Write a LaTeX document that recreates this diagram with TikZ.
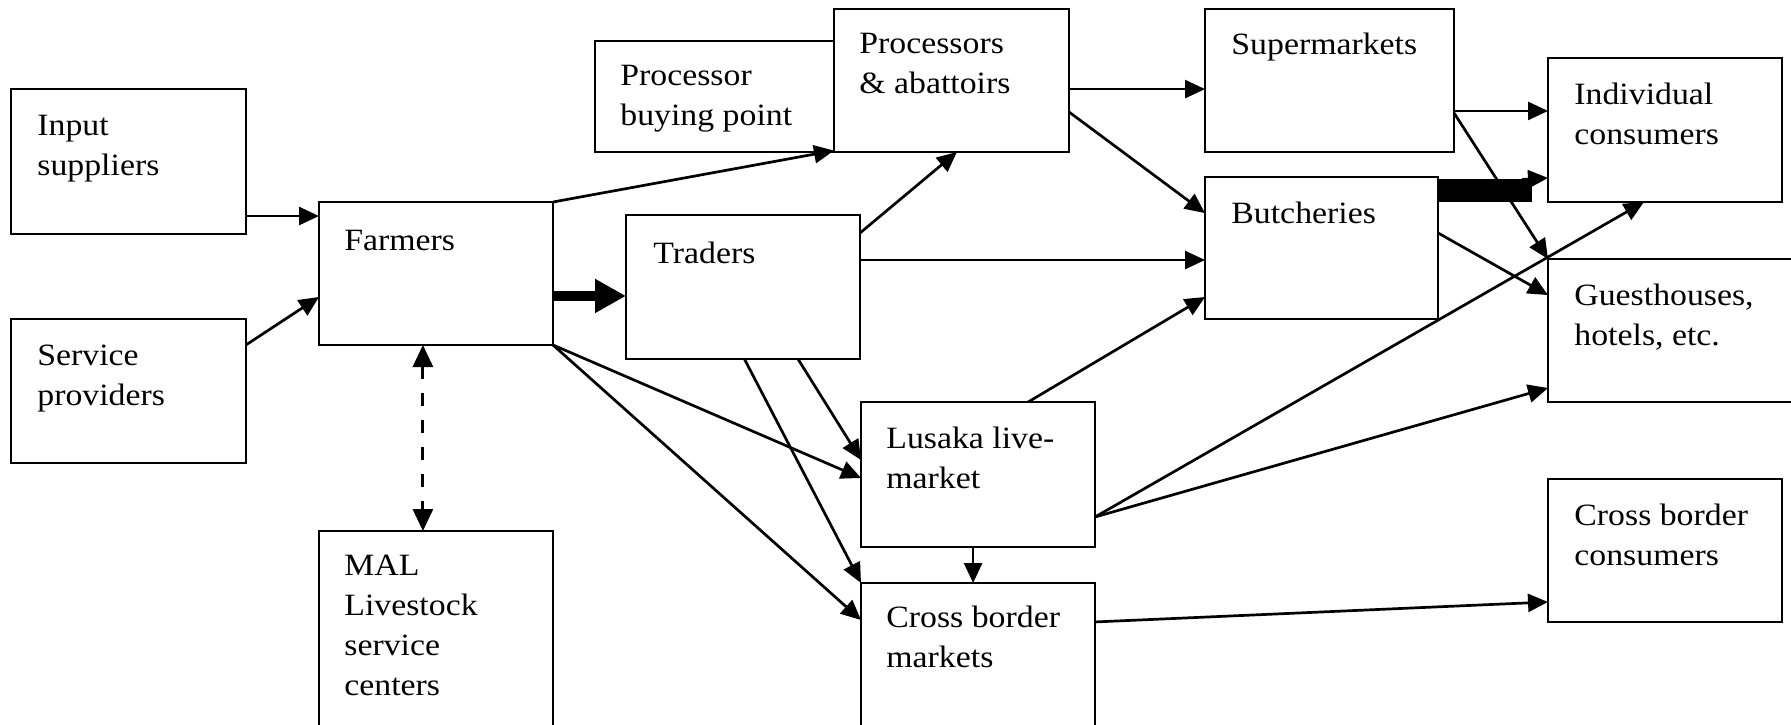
\documentclass[tikz,border=0pt]{standalone}
\usepackage{fontspec}
\setmainfont{Liberation Serif}[FakeStretch=1.09]
\usetikzlibrary{arrows.meta,calc}

\begin{document}
\begin{tikzpicture}[x=0.5pt,y=-0.5pt,
  box/.style={draw, line width=1pt, anchor=north west, inner sep=0pt, outer sep=0pt},
  txt/.style={anchor=north west, inner sep=0pt, align=left,
    font=\fontsize{15.5pt}{20pt}\selectfont},
  arr/.style={line width=1.35pt, -{Triangle[length=10pt,width=9pt]}},
  bigarr/.style={line width=5pt, -{Triangle[length=15.5pt,width=16pt]}},
  dasharr/.style={line width=1.5pt, dash pattern=on 6.5pt off 7pt,
    {Triangle[length=11pt,width=10pt]}-{Triangle[length=11pt,width=10pt]}}]

\clip (0,0) rectangle (1791,724);
\fill[white] (0,0) rectangle (1791,724);

% boxes
\node[box, minimum width=117.5pt, minimum height=72.5pt] (inp)   at (11,89)    {};
\node[box, minimum width=117.5pt, minimum height=72pt]   (serv)  at (11,319)   {};
\node[box, minimum width=117pt,   minimum height=71.5pt] (farm)  at (319,202)  {};
\node[box, minimum width=117pt,   minimum height=110pt]  (mal)   at (319,531)  {};
\node[box, minimum width=119.5pt, minimum height=55.5pt] (pbp)   at (595,41)   {};
\node[box, minimum width=117.5pt, minimum height=71.5pt] (proc)  at (834,9)    {};
\node[box, minimum width=117pt,   minimum height=72pt]   (trad)  at (626,215)  {};
\node[box, minimum width=124.5pt, minimum height=71.5pt] (supm)  at (1205,9)   {};
\node[box, minimum width=116.5pt, minimum height=71pt]   (butch) at (1205,177) {};
\node[box, minimum width=117pt,   minimum height=72pt]   (indiv) at (1548,58)  {};
\node[box, minimum width=125pt,   minimum height=71.5pt] (guest) at (1548,259) {};
\node[box, minimum width=117pt,   minimum height=72.5pt] (lus)   at (861,402)  {};
\node[box, minimum width=117pt,   minimum height=88.5pt] (cbm)   at (861,583)  {};
\node[box, minimum width=117pt,   minimum height=71.5pt] (cbc)   at (1548,479) {};

% box labels (the zero-width rule fixes the first baseline)
\node[txt] (inp-t)   at ([shift={(26,16)}]inp.north west)   {\rule{0pt}{15pt}Input\\suppliers};
\node[txt] (serv-t)  at ([shift={(26,16)}]serv.north west)  {\rule{0pt}{15pt}Service\\providers};
\node[txt] (farm-t)  at ([shift={(25,18)}]farm.north west)  {\rule{0pt}{15pt}Farmers};
\node[txt] (mal-t)   at ([shift={(25,14)}]mal.north west)   {\rule{0pt}{15pt}MAL\\Livestock\\service\\centers};
\node[txt] (pbp-t)   at ([shift={(25,14)}]pbp.north west)   {\rule{0pt}{15pt}Processor\\buying point};
\node[txt] (proc-t)  at ([shift={(25,14)}]proc.north west)  {\rule{0pt}{15pt}Processors\\\& abattoirs};
\node[txt] (trad-t)  at ([shift={(27,18)}]trad.north west)  {\rule{0pt}{15pt}Traders};
\node[txt] (supm-t)  at ([shift={(26,15)}]supm.north west)  {\rule{0pt}{15pt}Supermarkets};
\node[txt] (butch-t) at ([shift={(26,16)}]butch.north west) {\rule{0pt}{15pt}Butcheries};
\node[txt] (indiv-t) at ([shift={(26,16)}]indiv.north west) {\rule{0pt}{15pt}Individual\\consumers};
\node[txt] (guest-t) at ([shift={(26,16)}]guest.north west) {\rule{0pt}{15pt}Guesthouses,\\hotels, etc.};
\node[txt] (lus-t)   at ([shift={(25,16)}]lus.north west)   {\rule{0pt}{15pt}Lusaka live-\\market};
\node[txt] (cbm-t)   at ([shift={(25,14)}]cbm.north west)   {\rule{0pt}{15pt}Cross border\\markets};
\node[txt] (cbc-t)   at ([shift={(26,16)}]cbc.north west)   {\rule{0pt}{15pt}Cross border\\consumers};

% inputs to farmers
\coordinate (p1) at ($(inp.north east)!0.876!(inp.south east)$);
\draw[arr] (p1) -- (p1 -| farm.west);
\draw[arr] ($(serv.north east)!0.18!(serv.south east)$) -- ($(farm.north west)!0.664!(farm.south west)$);

% farmers onwards
\draw[arr] (farm.north east) -- ($(proc.north west)!0.99!(proc.south west)$);
\coordinate (p2) at ($(farm.north east)!0.657!(farm.south east)$);
\draw[bigarr] (p2) -- (p2 -| trad.west);
\draw[arr] (farm.south east) -- ($(lus.north west)!0.524!(lus.south west)$);
\draw[arr] (farm.south east) -- ($(cbm.north west)!0.209!(cbm.south west)$);
\coordinate (p8) at ($(farm.south west)!0.444!(farm.south east)$);
\draw[dasharr] (p8) -- (p8 |- mal.north);

% traders onwards
\draw[arr] ($(trad.north east)!0.125!(trad.south east)$) -- ($(proc.south west)!0.523!(proc.south east)$);
\coordinate (p3) at ($(trad.north east)!0.3125!(trad.south east)$);
\draw[arr] (p3) -- (p3 -| butch.west);
\draw[arr] ($(trad.south west)!0.735!(trad.south east)$) -- ($(lus.north west)!0.4!(lus.south west)$);
\draw[arr] ($(trad.south west)!0.506!(trad.south east)$) -- (cbm.north west);

% processors onwards
\coordinate (p4) at ($(proc.north east)!0.56!(proc.south east)$);
\draw[arr] (p4) -- (p4 -| supm.west);
\draw[arr] ($(proc.north east)!0.72!(proc.south east)$) -- ($(butch.north west)!0.254!(butch.south west)$);

% retail outlets to consumers
\coordinate (p5) at ($(supm.north east)!0.713!(supm.south east)$);
\draw[arr] (p5) -- (p5 -| indiv.west);
\coordinate (bs) at ($(butch.north east)!0.095!(butch.south east)$);
\coordinate (be) at ($(bs -| indiv.west)+(-16,0)$);
\draw[line width=11.5pt] (bs) -- (be);
\draw[arr] ($(be)+(-10,-11)$) -- ($(indiv.north west)!0.833!(indiv.south west)$);
\draw[arr] ($(supm.north east)!0.727!(supm.south east)$) -- (guest.north west);
\draw[arr] ($(butch.north east)!0.394!(butch.south east)$) -- ($(guest.north west)!0.252!(guest.south west)$);

% live-market onwards
\draw[arr] ($(lus.north west)!0.714!(lus.north east)$) -- ($(butch.north west)!0.845!(butch.south west)$);
\coordinate (p6) at ($(lus.north east)!0.793!(lus.south east)$);
\draw[arr] (p6) -- ($(indiv.south west)!0.41!(indiv.south east)$);
\draw[arr] (p6) -- ($(guest.north west)!0.902!(guest.south west)$);
\coordinate (p7) at ($(lus.south west)!0.479!(lus.south east)$);
\draw[arr] (p7) -- (p7 |- cbm.north);

% cross border trade
\draw[arr] ($(cbm.north east)!0.22!(cbm.south east)$) -- ($(cbc.north west)!0.86!(cbc.south west)$);

\end{tikzpicture}
\end{document}
